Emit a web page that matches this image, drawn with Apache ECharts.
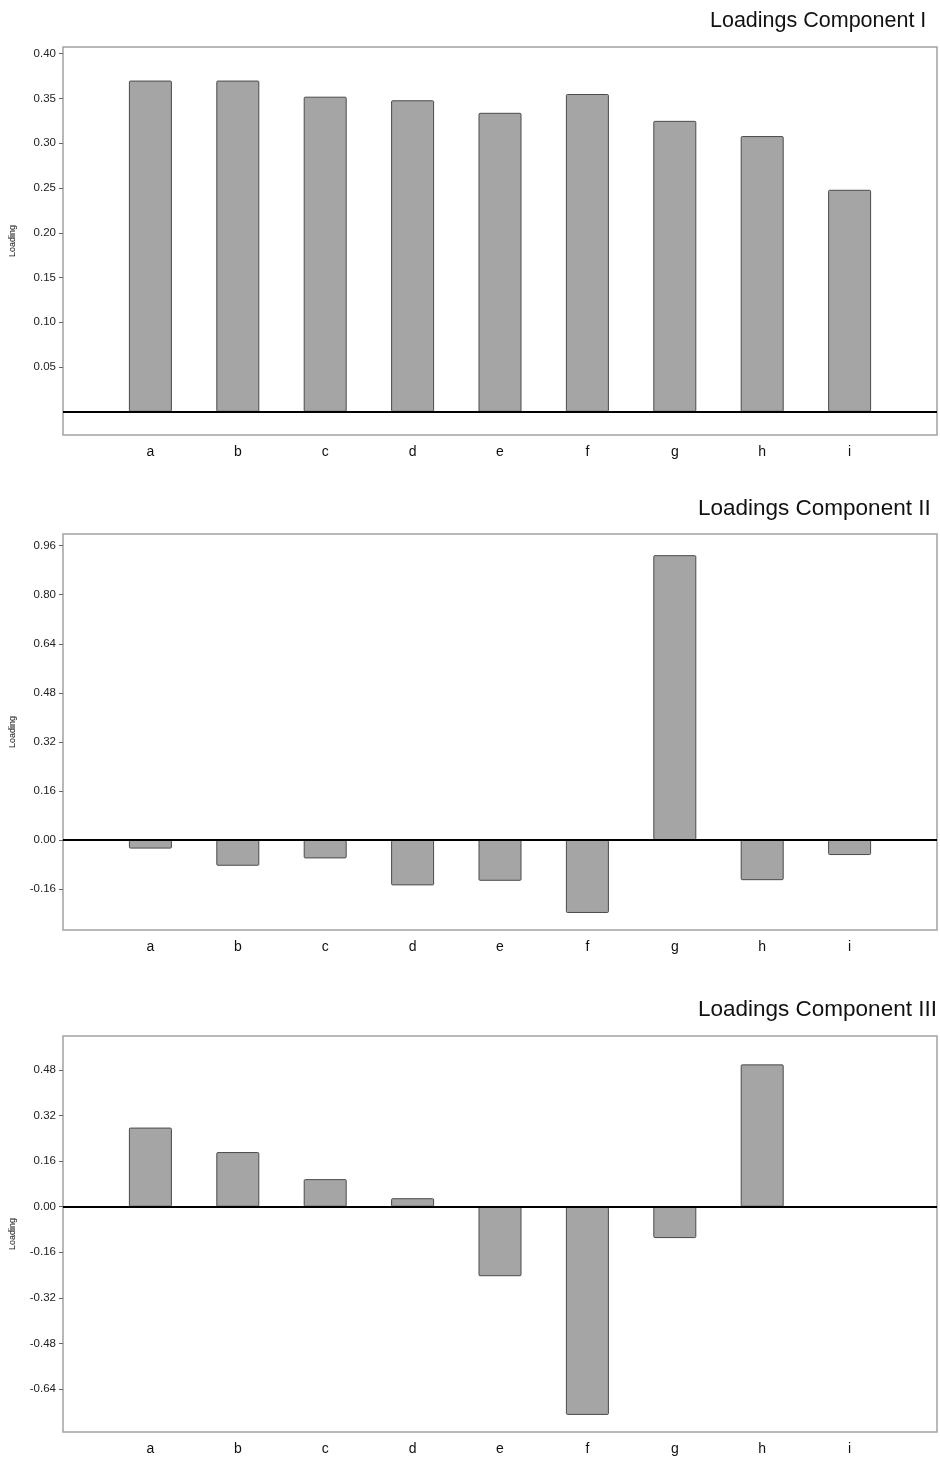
<!DOCTYPE html>
<html>
<head>
<meta charset="utf-8">
<script src="https://cdn.jsdelivr.net/npm/echarts@6/dist/echarts.min.js"></script>
<style>
html,body{margin:0;padding:0;background:#fff;}
#chart{width:940px;height:1465px;}
</style>
</head>
<body>
<div id="chart"></div>
<script>
const categories = ['a','b','c','d','e','f','g','h','i'];
const titles = ['Loadings Component I','Loadings Component II','Loadings Component III'];
const comp1 = [0.370, 0.370, 0.352, 0.348, 0.334, 0.355, 0.325, 0.308, 0.248];
const comp2 = [-0.028, -0.084, -0.060, -0.148, -0.133, -0.238, 0.929, -0.131, -0.049];
const comp3 = [0.278, 0.192, 0.097, 0.030, -0.244, -0.731, -0.110, 0.500, 0.000];
const ticks1 = [0.05, 0.10, 0.15, 0.20, 0.25, 0.30, 0.35, 0.40];
const ticks2 = [-0.16, 0.00, 0.16, 0.32, 0.48, 0.64, 0.80, 0.96];
const ticks3 = [-0.64, -0.48, -0.32, -0.16, 0.00, 0.16, 0.32, 0.48];

const seriesData = [comp1, comp2, comp3];
const tickSets = [ticks1, ticks2, ticks3];
const ranges = [[-0.0259, 0.4075], [-0.2935, 0.998], [-0.791, 0.5996]];
const grids = [
  {left: 63, top: 47, width: 874, height: 388},
  {left: 63, top: 534, width: 874, height: 396},
  {left: 63, top: 1036, width: 874, height: 396}
];
const titlePos = [
  {left: 705, top: 5, size: 21.5},
  {left: 693, top: 492, size: 22.5},
  {left: 693, top: 993, size: 22.5}
];

const paddedCats = [''].concat(categories, ['']);
const FONT = '"Liberation Sans", Arial, sans-serif';

const option = {
  backgroundColor: '#ffffff',
  animation: false,
  title: titles.map((t, i) => ({
    text: t,
    left: titlePos[i].left,
    top: titlePos[i].top,
    textStyle: {fontFamily: FONT, fontSize: titlePos[i].size, fontWeight: 'normal', color: '#111'}
  })),
  grid: grids.map(g => Object.assign({show: true, borderColor: '#a3a3a3', borderWidth: 1.5, backgroundColor: '#fff', containLabel: false}, g)),
  xAxis: grids.map((g, i) => ({
    type: 'category',
    gridIndex: i,
    data: paddedCats,
    boundaryGap: false,
    axisLine: {show: false},
    axisTick: {show: false},
    splitLine: {show: false},
    axisLabel: {fontFamily: FONT, fontSize: 14, color: '#111', margin: 10, interval: 0}
  })),
  yAxis: grids.map((g, i) => ({
    type: 'value',
    gridIndex: i,
    min: ranges[i][0],
    max: ranges[i][1],
    name: 'Loading',
    nameLocation: 'middle',
    nameGap: 46,
    nameRotate: 90,
    nameTextStyle: {fontFamily: FONT, fontSize: 9, color: '#111'},
    axisLine: {show: false},
    splitLine: {show: false},
    axisTick: {show: true, length: 4, lineStyle: {color: '#666', width: 1}, customValues: tickSets[i]},
    axisLabel: {
      fontFamily: FONT, fontSize: 11.5, color: '#222', margin: 7,
      customValues: tickSets[i],
      formatter: v => v.toFixed(2)
    }
  })),
  series: seriesData.map((d, i) => ({
    type: 'bar',
    xAxisIndex: i,
    yAxisIndex: i,
    data: [null].concat(d, [null]),
    barWidth: 43,
    itemStyle: {color: '#a5a5a5', borderColor: '#4a4a4a', borderWidth: 1, borderRadius: 1},
    markLine: {
      silent: true,
      symbol: 'none',
      label: {show: false},
      lineStyle: {color: '#000', width: 2, type: 'solid'},
      data: [{yAxis: 0}]
    }
  }))
};

const chart = echarts.init(document.getElementById('chart'), null, {renderer: 'canvas'});
chart.setOption(option);
</script>
</body>
</html>
